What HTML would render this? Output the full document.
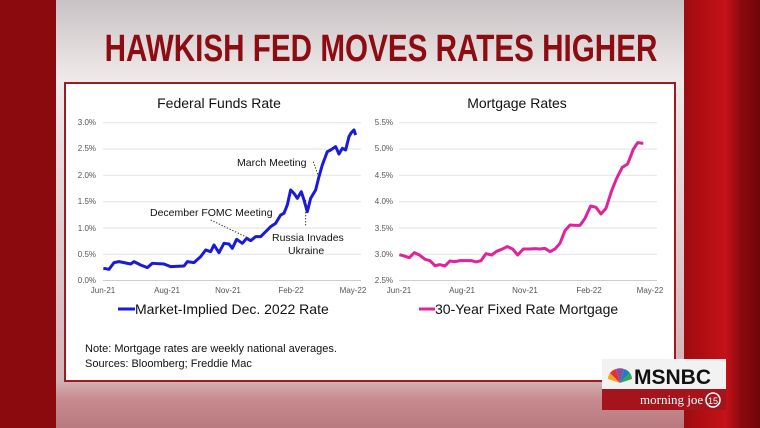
<!DOCTYPE html>
<html><head><style>
body{margin:0;width:760px;height:428px;overflow:hidden;background:#8a0a0e;font-family:"Liberation Sans",sans-serif;position:relative}
.bg{position:absolute;left:56px;top:0;width:628px;height:428px;background:linear-gradient(#c8c2c4 0px,#e6e0e1 60px,#efe9ea 80px,#d2b4b6 380px,#c78a8e 400px,#b87a7e 428px)}
.rr{position:absolute;top:0;height:428px}
h1{position:absolute;left:0;top:28px;width:760px;margin:0;text-align:center;font:bold 38px "Liberation Sans Narrow","Liberation Sans",sans-serif;color:#8c0c12;transform:translateX(1px) scaleX(0.78)}
.box{position:absolute;left:64px;top:82px;width:608px;height:296px;background:#fff;border:2px solid #9c1a20}
</style></head><body>
<div class="rr" style="left:684px;width:76px;background:linear-gradient(90deg,#9c0c10,#b50f14 30%,#c41218 55%,#8a0a0e 75%,#6e0709)"></div>
<div class="rr" style="left:0;width:56px;background:#8a0a0e"></div>
<div class="bg"></div>
<h1>HAWKISH FED MOVES RATES HIGHER</h1>
<div class="box"></div>
<svg width="760" height="428" style="position:absolute;left:0;top:0" font-family="Liberation Sans, sans-serif">
<g font-size="8" fill="#555" text-anchor="end">
<text x="96" y="125">3.0%</text><text x="96" y="151">2.5%</text><text x="96" y="178">2.0%</text><text x="96" y="204">1.5%</text><text x="96" y="231">1.0%</text><text x="96" y="257">0.5%</text><text x="96" y="283">0.0%</text>
<text x="393" y="125">5.5%</text><text x="393" y="151">5.0%</text><text x="393" y="178">4.5%</text><text x="393" y="204">4.0%</text><text x="393" y="231">3.5%</text><text x="393" y="257">3.0%</text><text x="393" y="283">2.5%</text>
</g>
<g stroke="#e2e2e2" stroke-width="1">
<line x1="103" x2="361" y1="122.7" y2="122.7"/><line x1="103" x2="361" y1="149" y2="149"/><line x1="103" x2="361" y1="175.3" y2="175.3"/><line x1="103" x2="361" y1="201.7" y2="201.7"/><line x1="103" x2="361" y1="228" y2="228"/><line x1="103" x2="361" y1="254.3" y2="254.3"/><line x1="103" x2="361" y1="280.5" y2="280.5" stroke="#ccc"/>
<line x1="399" x2="657" y1="122.7" y2="122.7"/><line x1="399" x2="657" y1="149" y2="149"/><line x1="399" x2="657" y1="175.3" y2="175.3"/><line x1="399" x2="657" y1="201.7" y2="201.7"/><line x1="399" x2="657" y1="228" y2="228"/><line x1="399" x2="657" y1="254.3" y2="254.3"/><line x1="399" x2="657" y1="280.5" y2="280.5" stroke="#ccc"/>
</g>
<g font-size="8" fill="#555" text-anchor="middle">
<text x="103" y="293">Jun-21</text><text x="167" y="293">Aug-21</text><text x="228" y="293">Nov-21</text><text x="291" y="293">Feb-22</text><text x="353" y="293">May-22</text>
<text x="399" y="293">Jun-21</text><text x="462" y="293">Aug-21</text><text x="525" y="293">Nov-21</text><text x="589" y="293">Feb-22</text><text x="650" y="293">May-22</text>
</g>
<text x="219" y="108" font-size="14" text-anchor="middle" fill="#111">Federal Funds Rate</text>
<text x="517" y="108" font-size="14" text-anchor="middle" fill="#111">Mortgage Rates</text>
<g transform="translate(64,80) scale(0.3333)">
<polyline fill="none" stroke="#1a1adc" stroke-width="9" stroke-linejoin="round" points="118,565 135,568 150,548 165,545 180,548 200,552 210,545 230,555 250,563 265,550 300,552 320,560 360,558 370,545 390,548 410,530 425,510 440,515 450,495 465,518 480,490 495,492 505,505 518,478 535,490 548,475 560,482 575,470 590,470 605,455 620,440 635,430 650,405 660,400 670,375 680,330 690,340 700,355 712,335 720,360 730,395 740,355 755,330 765,290 775,255 790,215 800,210 815,200 825,222 835,205 845,210 855,170 862,158 870,150 875,165"/>
<g stroke="#333" stroke-width="3" stroke-dasharray="4,5" fill="none"><line x1="440" y1="420" x2="555" y2="475"/><line x1="725" y1="360" x2="725" y2="440"/><line x1="748" y1="245" x2="762" y2="285"/></g>
</g>
<g transform="translate(370,80) scale(0.3333)">
<polyline fill="none" stroke="#e0239a" stroke-width="9" stroke-linejoin="round" points="88,524 100,527 118,533 133,518 148,525 165,538 180,542 195,557 210,554 225,558 240,543 255,545 270,542 290,542 305,542 318,546 333,542 348,521 365,525 380,514 395,508 412,500 428,507 443,525 460,507 480,507 495,506 510,507 525,505 540,515 555,507 570,490 585,452 600,435 615,436 630,436 645,415 662,378 678,382 693,402 708,385 725,332 740,295 757,262 773,252 790,208 803,188 820,190"/>
</g>
<g font-size="10.5" fill="#111">
<text x="237" y="166">March Meeting</text>
<text x="150" y="216">December FOMC Meeting</text>
<text x="272" y="241">Russia Invades</text>
<text x="288" y="254">Ukraine</text>
</g>
<line x1="118" y1="309" x2="135" y2="309" stroke="#1a1adc" stroke-width="3"/>
<text x="135" y="314" font-size="14" fill="#111">Market-Implied Dec. 2022 Rate</text>
<line x1="419" y1="309" x2="435" y2="309" stroke="#e0239a" stroke-width="3"/>
<text x="435" y="314" font-size="14" fill="#111">30-Year Fixed Rate Mortgage</text>
<text x="85" y="352" font-size="11" fill="#111">Note: Mortgage rates are weekly national averages.</text>
<text x="85" y="367" font-size="11" fill="#111">Sources: Bloomberg; Freddie Mac</text>
<rect x="602" y="359" width="124" height="30" fill="#f2f2f2"/>
<rect x="602" y="389" width="124" height="21" fill="#a3141c"/>
<g transform="translate(620,383)">
<path d="M0,0 L-12,-4 A12,12 0 0 1 -10,-10 Z" fill="#f5a623"/>
<path d="M0,0 L-10,-10 A12,12 0 0 1 -4,-14 Z" fill="#e4312b"/>
<path d="M0,0 L-4,-14 A12,12 0 0 1 4,-14 Z" fill="#8b4fa0"/>
<path d="M0,0 L4,-14 A12,12 0 0 1 10,-10 Z" fill="#1e7fc3"/>
<path d="M0,0 L10,-10 A12,12 0 0 1 12,-4 Z" fill="#33a853"/>
</g>
<text x="634" y="384" font-size="21" font-weight="bold" fill="#111">MSNBC</text>
<text x="640" y="404" font-size="13" fill="#fff" font-family="Liberation Serif, serif">morning joe</text>
<circle cx="713" cy="400" r="7" fill="none" stroke="#fff" stroke-width="1.5"/>
<text x="713" y="404" font-size="9" fill="#fff" text-anchor="middle">15</text>
</svg>
</body></html>
